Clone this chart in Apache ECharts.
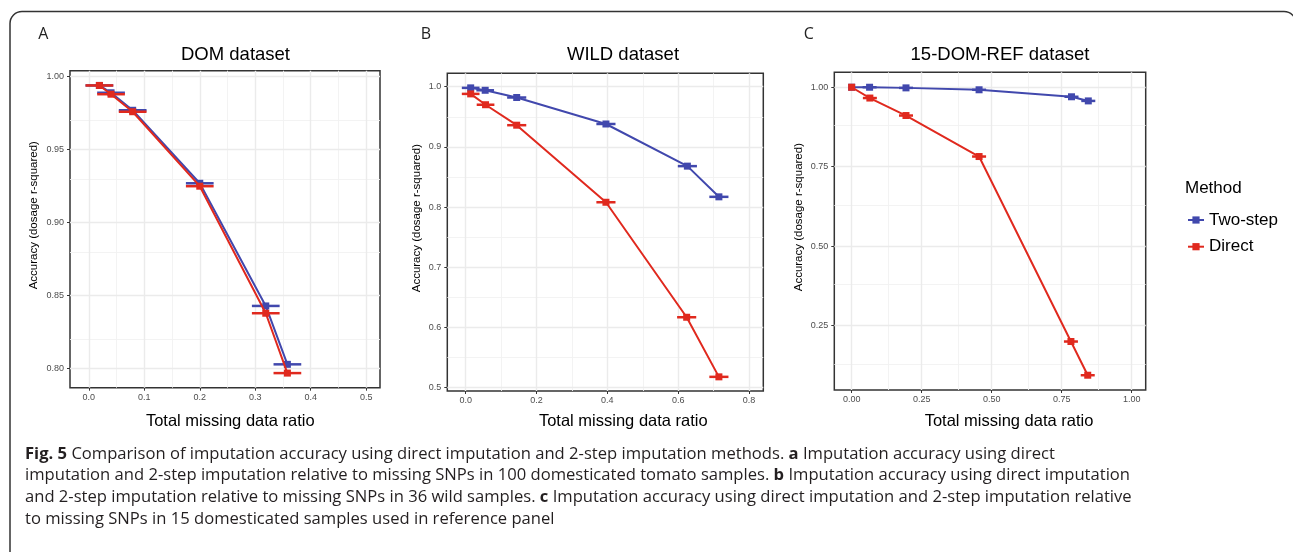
<!DOCTYPE html>
<html>
<head>
<meta charset="utf-8">
<script src="https://cdn.jsdelivr.net/npm/echarts@6/dist/echarts.min.js"></script>
<style>
  html, body { margin: 0; padding: 0; background: #fff; }
  #chart { width: 1293px; height: 552px; }
</style>
</head>
<body>
<div id="chart"></div>
<script>
// Fig. 5 - imputation accuracy vs total missing data ratio, three datasets.
// Squares are the mean accuracy, horizontal bars the spread of missing ratio.
const METHODS = ['Two-step', 'Direct'];
const COLORS = ['#4148ad', '#e0291e'];

// A - DOM dataset
const domTwoX = [0.019, 0.040, 0.079, 0.200, 0.319, 0.358];
const domTwoY = [0.994, 0.989, 0.977, 0.927, 0.843, 0.803];
const domDirectX = [0.019, 0.040, 0.079, 0.200, 0.319, 0.358];
const domDirectY = [0.994, 0.988, 0.976, 0.925, 0.838, 0.797];
const domErr = [0.025, 0.025, 0.025, 0.025, 0.025, 0.025];

// B - WILD dataset
const wildTwoX = [0.014, 0.055, 0.144, 0.396, 0.626, 0.715];
const wildTwoY = [0.998, 0.994, 0.982, 0.938, 0.868, 0.817];
const wildDirectX = [0.014, 0.056, 0.144, 0.396, 0.624, 0.715];
const wildDirectY = [0.988, 0.970, 0.936, 0.808, 0.617, 0.518];
const wildErr = [0.025, 0.025, 0.027, 0.027, 0.027, 0.027];

// C - 15-DOM-REF dataset
const refTwoX = [0.0, 0.064, 0.194, 0.455, 0.785, 0.845];
const refTwoY = [1.0, 1.0, 0.998, 0.992, 0.970, 0.957];
const refDirectX = [0.0, 0.065, 0.194, 0.455, 0.783, 0.843];
const refDirectY = [1.0, 0.966, 0.911, 0.782, 0.200, 0.094];
const refErr = [0, 0.025, 0.025, 0.025, 0.025, 0.025];

// tick values (major get labels, minor only a faint grid line)
const domXTicks = [0, 0.1, 0.2, 0.3, 0.4, 0.5];
const domXMinor = [0.05, 0.15, 0.25, 0.35, 0.45];
const domYTicks = [0.80, 0.85, 0.90, 0.95, 1.00];
const domYMinor = [0.825, 0.875, 0.925, 0.975];
const wildXTicks = [0, 0.2, 0.4, 0.6, 0.8];
const wildXMinor = [0.1, 0.3, 0.5, 0.7];
const wildYTicks = [0.5, 0.6, 0.7, 0.8, 0.9, 1.0];
const wildYMinor = [0.55, 0.65, 0.75, 0.85, 0.95];
const refXTicks = [0, 0.25, 0.5, 0.75, 1.0];
const refXMinor = [0.125, 0.375, 0.625, 0.875];
const refYTicks = [0.25, 0.5, 0.75, 1.0];
const refYMinor = [0.125, 0.375, 0.625, 0.875];

const panelLetters = ['A', 'B', 'C'];
const panelTitles = ['DOM dataset', 'WILD dataset', '15-DOM-REF dataset'];
const xTitle = 'Total missing data ratio';
const yTitle = 'Accuracy (dosage r-squared)';
const captionLines = [
  '{b|Fig. 5} Comparison of imputation accuracy using direct imputation and 2-step imputation methods. {b|a} Imputation accuracy using direct',
  'imputation and 2-step imputation relative to missing SNPs in 100 domesticated tomato samples. {b|b} Imputation accuracy using direct imputation',
  'and 2-step imputation relative to missing SNPs in 36 wild samples. {b|c} Imputation accuracy using direct imputation and 2-step imputation relative',
  'to missing SNPs in 15 domesticated samples used in reference panel'
];

const panels = [
  { two: [domTwoX, domTwoY], direct: [domDirectX, domDirectY], err: domErr,
    xr: [-0.034, 0.525], yr: [0.787, 1.0041], xd: 1, yd: 2,
    xt: domXTicks, xm: domXMinor, yt: domYTicks, ym: domYMinor },
  { two: [wildTwoX, wildTwoY], direct: [wildDirectX, wildDirectY], err: wildErr,
    xr: [-0.052, 0.8404], yr: [0.4945, 1.0222], xd: 1, yd: 1,
    xt: wildXTicks, xm: wildXMinor, yt: wildYTicks, ym: wildYMinor },
  { two: [refTwoX, refTwoY], direct: [refDirectX, refDirectY], err: refErr,
    xr: [-0.062, 1.05], yr: [0.0475, 1.047], xd: 2, yd: 2,
    xt: refXTicks, xm: refXMinor, yt: refYTicks, ym: refYMinor },
];

// layout, px
const gridBoxes = [
  { left: 70, top: 70.7, width: 310, height: 317 },
  { left: 447.3, top: 73.3, width: 316, height: 317.7 },
  { left: 834.3, top: 72.3, width: 311.4, height: 317.7 },
];
const letterX = [43.3, 426, 808.7];
const titleX = [235.5, 623, 1000];
const xNameGap = [25, 21.5, 22.5];
const xNameShift = [5.3, 18, 19];
const yNameGap = [30, 24, 29.3];

const FONT = 'Liberation Sans';
const CAP_FONT = 'Open Sans';

const chart = echarts.init(document.getElementById('chart'));

const zip = (xs, ys) => xs.map((x, i) => [x, ys[i]]);

function errSeries(name, p, xs, ys, errs, color, z) {
  return {
    type: 'custom', name, xAxisIndex: p, yAxisIndex: p, z, silent: true,
    data: xs.map((x, i) => [x, ys[i], errs[i]]),
    encode: { x: 0, y: 1 },
    renderItem: (params, api) => {
      const a = api.coord([api.value(0) - api.value(2), api.value(1)]);
      const b = api.coord([api.value(0) + api.value(2), api.value(1)]);
      return { type: 'line', shape: { x1: a[0], y1: a[1], x2: b[0], y2: b[1] },
        style: { stroke: color, lineWidth: 2.5 } };
    },
  };
}

const grids = [], xAxes = [], yAxes = [], series = [], titles = [];

panels.forEach((pn, p) => {
  grids.push(Object.assign({ show: true, borderColor: '#333', borderWidth: 1.5, backgroundColor: '#fff' }, gridBoxes[p]));
  const label = (d) => ({ color: '#4d4d4d', fontSize: 9, fontFamily: FONT, formatter: v => v.toFixed(d) });
  xAxes.push({
    gridIndex: p, type: 'value', min: pn.xr[0], max: pn.xr[1],
    axisLine: { show: false, onZero: false },
    axisTick: { show: true, length: 3, customValues: pn.xt, lineStyle: { color: '#333', width: 1 } },
    axisLabel: Object.assign(label(pn.xd), { customValues: pn.xt, margin: 5 }),
    splitLine: { show: false },
    name: xTitle, nameLocation: 'middle', nameGap: xNameGap[p],
    nameTextStyle: { fontFamily: FONT, fontSize: 16.5, color: '#000', padding: [0, 0, 0, xNameShift[p] * 2] },
  });
  yAxes.push({
    gridIndex: p, type: 'value', min: pn.yr[0], max: pn.yr[1],
    axisLine: { show: false, onZero: false },
    axisTick: { show: true, length: 3, customValues: pn.yt, lineStyle: { color: '#333', width: 1 } },
    axisLabel: Object.assign(label(pn.yd), { customValues: pn.yt, margin: 6 }),
    splitLine: { show: false },
    name: yTitle, nameLocation: 'middle', nameGap: yNameGap[p],
    nameTextStyle: { fontFamily: FONT, fontSize: 11.5, color: '#000', padding: [0, 0, 0, 28] },
  });

  // grid lines, drawn on the axes' own scale
  const major = { color: '#ebebeb', width: 1.4, type: 'solid' };
  const minor = { color: '#f2f2f2', width: 0.9, type: 'solid' };
  series.push({
    type: 'line', name: '_grid', xAxisIndex: p, yAxisIndex: p, data: [], silent: true,
    markLine: {
      silent: true, z: 1, symbol: ['none', 'none'], label: { show: false }, animation: false,
      emphasis: { disabled: true },
      data: [].concat(
        pn.xm.map(v => ({ xAxis: v, lineStyle: minor })),
        pn.ym.map(v => ({ yAxis: v, lineStyle: minor })),
        pn.xt.map(v => ({ xAxis: v, lineStyle: major })),
        pn.yt.map(v => ({ yAxis: v, lineStyle: major })),
      ),
    },
  });

  [pn.two, pn.direct].forEach((d, m) => {
    series.push({
      type: 'line', name: METHODS[m], xAxisIndex: p, yAxisIndex: p, z: 3 + m,
      data: zip(d[0], d[1]), symbol: 'rect', symbolSize: 7, showSymbol: true,
      itemStyle: { color: COLORS[m] }, lineStyle: { color: COLORS[m], width: 2 },
      emphasis: { disabled: true },
    });
  });
  [pn.two, pn.direct].forEach((d, m) => {
    series.push(errSeries(METHODS[m], p, d[0], d[1], pn.err, COLORS[m], 3 + m));
  });

  titles.push({ text: panelLetters[p], left: letterX[p], top: 26, textAlign: 'center', padding: 0,
    textStyle: { fontFamily: CAP_FONT, fontSize: 16, fontWeight: 'normal', color: '#222' } });
  titles.push({ text: panelTitles[p], left: titleX[p], top: 45, textAlign: 'center', padding: 0,
    textStyle: { fontFamily: FONT, fontSize: 18.5, fontWeight: 'normal', color: '#000' } });
});

titles.push({ text: 'Method', left: 1185, top: 180, padding: 0,
  textStyle: { fontFamily: FONT, fontSize: 17, fontWeight: 'normal', color: '#000' } });

const capTop = [445.5, 467.2, 488.9, 510.6];
captionLines.forEach((t, i) => {
  titles.push({ text: t, left: 25, top: capTop[i], padding: 0,
    textStyle: { fontFamily: CAP_FONT, fontSize: 16.6, fontWeight: 'normal', color: '#231f20',
      rich: { b: { fontFamily: CAP_FONT, fontSize: 16.6, fontWeight: 'bold', color: '#231f20' } } } });
});

chart.setOption({
  animation: false,
  backgroundColor: '#fff',
  title: titles,
  legend: {
    data: METHODS, orient: 'vertical', left: 1187, top: 211.5, padding: 0, itemWidth: 16, itemHeight: 9,
    itemGap: 9.7, selectedMode: true,
    textStyle: { fontFamily: FONT, fontSize: 17, color: '#000' },
  },
  grid: grids, xAxis: xAxes, yAxis: yAxes, series,
  graphic: [{
    type: 'rect', silent: true, z: 0,
    shape: { x: 10, y: 11.5, width: 1286, height: 600, r: [12, 12, 0, 0] },
    style: { fill: 'none', stroke: '#333', lineWidth: 1.5 },
  }],
});
window.addEventListener('resize', () => chart.resize());
</script>
</body>
</html>
